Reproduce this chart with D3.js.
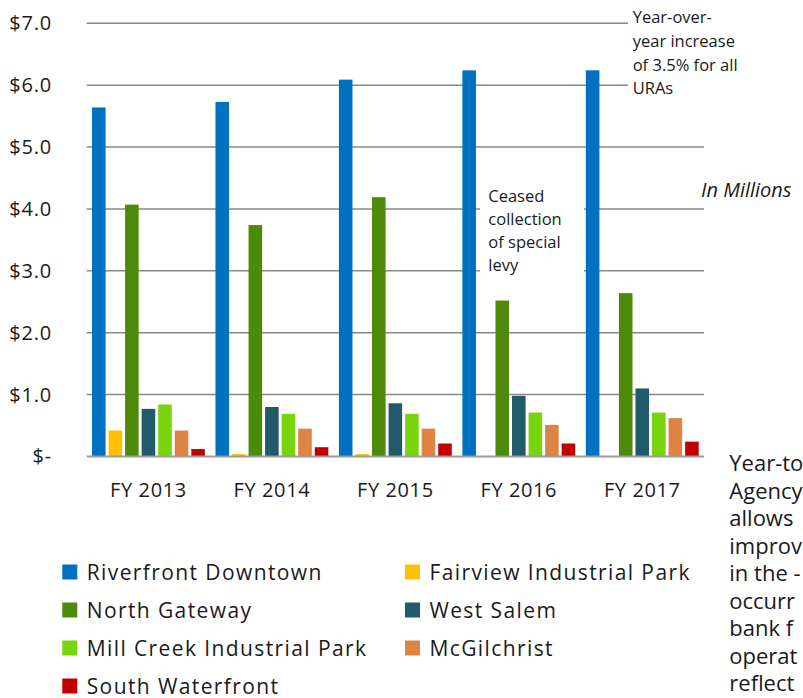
<!DOCTYPE html>
<html>
<head>
<meta charset="utf-8">
<script src="https://cdn.jsdelivr.net/npm/d3@7/dist/d3.min.js"></script>
<style>
  html, body { margin: 0; padding: 0; background: #fff; }
  svg { display: block; font-family: "Open Sans", "Noto Sans", sans-serif; }
</style>
</head>
<body>
<svg id="chart" width="803" height="698"></svg>
<script>
// ---- data ----
const years = ["FY 2013", "FY 2014", "FY 2015", "FY 2016", "FY 2017"];
const seriesNames = ["Riverfront Downtown", "Fairview Industrial Park", "North Gateway", "West Salem", "Mill Creek Industrial Park", "McGilchrist", "South Waterfront"];
const seriesColors = ["#0070C0", "#FFC000", "#4E8A0A", "#215A69", "#78D40C", "#DD8444", "#C00000"];
const riverfrontDowntown = [5.64, 5.73, 6.09, 6.24, 6.24];
const fairviewIndustrialPark = [0.42, 0.04, 0.04, 0, 0];
const northGateway = [4.07, 3.74, 4.19, 2.52, 2.64];
const westSalem = [0.77, 0.80, 0.86, 0.98, 1.10];
const millCreekIndustrialPark = [0.84, 0.69, 0.69, 0.71, 0.71];
const mcGilchrist = [0.42, 0.45, 0.45, 0.51, 0.62];
const southWaterfront = [0.12, 0.15, 0.21, 0.21, 0.24];
const yTickValues = [0, 1, 2, 3, 4, 5, 6, 7];
const yTickLabels = ["$-", "$1.0", "$2.0", "$3.0", "$4.0", "$5.0", "$6.0", "$7.0"];
const legendOrder = ["Riverfront Downtown", "Fairview Industrial Park", "North Gateway", "West Salem", "Mill Creek Industrial Park", "McGilchrist", "South Waterfront"];
const noteTop = ["Year-over-", "year increase", "of 3.5% for all", "URAs"];
const noteMid = ["Ceased", "collection", "of special", "levy"];
const unitLabel = "In Millions";
const sideText = ["Year-to", "Agency", "allows", "improv", "in the -", "occurr", "bank f", "operat", "reflect"];

(function () {
const seriesValues = [riverfrontDowntown, fairviewIndustrialPark, northGateway, westSalem, millCreekIndustrialPark, mcGilchrist, southWaterfront];
const rows = [];
seriesNames.forEach((s, si) => years.forEach((yr, yi) => rows.push({ series: s, year: yr, value: seriesValues[si][yi], color: seriesColors[si] })));

// ---- layout ----
const svg = d3.select("#chart");
const pLeft = 86.7, pRight = 704, pTop = 23.3, pBottom = 456.5;
const textColor = "#1a1a1a";

const y = d3.scaleLinear().domain([0, 7]).range([pBottom, pTop]);
const x0 = d3.scaleBand().domain(years).range([pLeft, pRight]).padding(0);
const x1 = d3.scaleBand().domain(seriesNames).range([0, x0.bandwidth()]).paddingInner(0.18).paddingOuter(0.32);

// gridlines
svg.append("g").selectAll("line").data(yTickValues.filter(v => v > 0)).join("line")
  .attr("x1", pLeft).attr("x2", pRight)
  .attr("y1", d => y(d)).attr("y2", d => y(d))
  .attr("stroke", "#888888").attr("stroke-width", 1.5);

// y tick labels
const yAxis = d3.axisLeft(y).tickValues(yTickValues).tickFormat((d, i) => yTickLabels[i]).tickSize(0).tickPadding(0);
const ya = svg.append("g").attr("transform", `translate(52,0)`).call(yAxis);
ya.select(".domain").remove();
ya.selectAll("text").attr("font-size", 20).attr("fill", textColor).attr("font-family", "Open Sans").attr("letter-spacing", 0.8);

// bars
svg.append("g").selectAll("rect").data(rows).join("rect")
  .attr("x", d => x0(d.year) + x1(d.series))
  .attr("width", x1.bandwidth())
  .attr("y", d => y(d.value))
  .attr("height", d => y(0) - y(d.value))
  .attr("fill", d => d.color);

// baseline
svg.append("line").attr("x1", pLeft).attr("x2", pRight).attr("y1", y(0)).attr("y2", y(0))
  .attr("stroke", "#999999").attr("stroke-width", 2);

// x axis labels
const xAxis = d3.axisBottom(x0).tickSize(0).tickPadding(0);
const xa = svg.append("g").attr("transform", `translate(0,${pBottom})`).call(xAxis);
xa.select(".domain").remove();
xa.selectAll("text").attr("font-size", 20).attr("font-family", "Open Sans").attr("fill", textColor).attr("dy", null).attr("y", 40).attr("letter-spacing", 0.6);

// annotation boxes
svg.append("rect").attr("x", 628).attr("y", 0).attr("width", 175).attr("height", 104).attr("fill", "#fff");
svg.append("rect").attr("x", 480).attr("y", 180).attr("width", 104).attr("height", 100).attr("fill", "#fff");

svg.append("g").selectAll("text").data(noteTop).join("text")
  .attr("x", 632.7).attr("y", (d, i) => 22.7 + i * 23.9)
  .attr("font-size", 16.5).attr("fill", textColor).text(d => d);
svg.append("g").selectAll("text").data(noteMid).join("text")
  .attr("x", 488.3).attr("y", (d, i) => 201.7 + i * 23)
  .attr("font-size", 16.5).attr("fill", textColor).text(d => d);

svg.append("text").attr("x", 701).attr("y", 196.7).attr("font-size", 20).attr("font-style", "italic")
  .attr("fill", textColor).text(unitLabel);

// side paragraph fragments (as visible at page edge)
svg.append("g").selectAll("text").data(sideText).join("text")
  .attr("x", 729.3).attr("y", (d, i) => 471 + i * 27.5)
  .attr("font-size", 22).attr("fill", textColor).text(d => d);

// legend
const legendPos = [
  { x: 62.3, row: 0 }, { x: 405, row: 0 },
  { x: 62.3, row: 1 }, { x: 405, row: 1 },
  { x: 62.3, row: 2 }, { x: 405, row: 2 },
  { x: 62.3, row: 3 }
];
const lg = svg.append("g").selectAll("g").data(legendOrder).join("g")
  .attr("transform", (d, i) => `translate(${legendPos[i].x},${572 + legendPos[i].row * 38})`);
lg.append("rect").attr("x", 0).attr("y", -7.5).attr("width", 15).attr("height", 15)
  .attr("fill", d => seriesColors[seriesNames.indexOf(d)]);
lg.append("text").attr("x", 24.4).attr("y", 7.5).attr("font-size", 21).attr("letter-spacing", 1.4)
  .attr("fill", textColor).text(d => d);
})();
</script>
</body>
</html>
